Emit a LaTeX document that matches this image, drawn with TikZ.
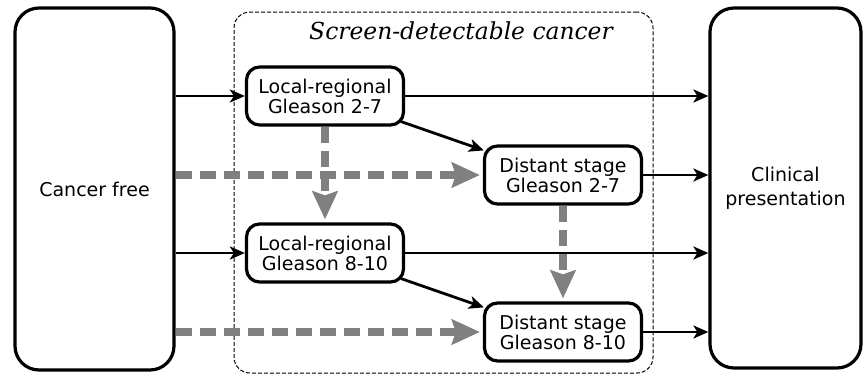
\documentclass[tikz,border=0pt]{standalone}
\usepackage{fontspec}
\setmainfont{DejaVu Sans}
\newfontfamily\titlefont{DejaVu Serif}
\usetikzlibrary{arrows.meta}
\definecolor{flowgray}{HTML}{808080}
\begin{document}
\begin{tikzpicture}[x=1pt,y=-1pt,
  bigbox/.style={draw,line width=3.2pt,rounded corners=24pt,align=center,font=\fontsize{19}{24}\selectfont},
  statebox/.style={draw,line width=3.2pt,rounded corners=13pt,minimum width=157pt,minimum height=58pt,align=center,inner sep=0pt,font=\fontsize{19}{20}\selectfont},
  solidarrow/.style={line width=2.8pt,-{Stealth[length=15pt,width=13pt,inset=4pt]}},
  grayarrow/.style={line width=8pt,draw=flowgray,dash pattern=on 16pt off 8pt,-{Stealth[length=28pt,width=25pt,inset=4pt]},shorten >=3pt}
]
\useasboundingbox (0,0) rectangle (863,378);
% screen-detectable region
\node[draw,line width=1pt,dash pattern=on 4pt off 2pt,rounded corners=16pt,minimum width=419pt,minimum height=361pt,inner sep=0pt] (region) at (443.5,192.5) {};
\node[font=\titlefont\itshape\fontsize{23.4}{26}\selectfont] (title) at (461,31) {Screen-detectable cancer};
% big boxes
\node[bigbox,minimum width=159pt,minimum height=362pt] (cf) at (94.5,189) {Cancer free};
\node[bigbox,minimum width=151pt,minimum height=360pt] (cp) at (785.5,188) {Clinical\\presentation};
% states
\node[statebox] (lr1) at (325,96) {Local-regional\\Gleason 2-7};
\node[statebox] (ds1) at (563,175) {Distant stage\\Gleason 2-7};
\node[statebox] (lr2) at (325,253) {Local-regional\\Gleason 8-10};
\node[statebox] (ds2) at (563,332) {Distant stage\\Gleason 8-10};
% gray dashed transitions
\draw[grayarrow] (cf.east |- ds1) -- (ds1.west);
\draw[grayarrow] (cf.east |- ds2) -- (ds2.west);
\draw[grayarrow] (lr1.south) -- (lr2.north);
\draw[grayarrow] (ds1.south) -- (ds2.north);
% solid transitions
\draw[solidarrow] (cf.east |- lr1) -- (lr1.west);
\draw[solidarrow] (cf.east |- lr2) -- (lr2.west);
\draw[solidarrow] (lr1.east) -- (cp.west |- lr1);
\draw[solidarrow] (ds1.east) -- (cp.west |- ds1);
\draw[solidarrow] (lr2.east) -- (cp.west |- lr2);
\draw[solidarrow] (ds2.east) -- (cp.west |- ds2);
\draw[solidarrow] ([shift={(-4,-5)}]lr1.south east) -- ([shift={(1,6)}]ds1.north west);
\draw[solidarrow] ([shift={(-4,-5)}]lr2.south east) -- ([shift={(1,6)}]ds2.north west);
\end{tikzpicture}
\end{document}
